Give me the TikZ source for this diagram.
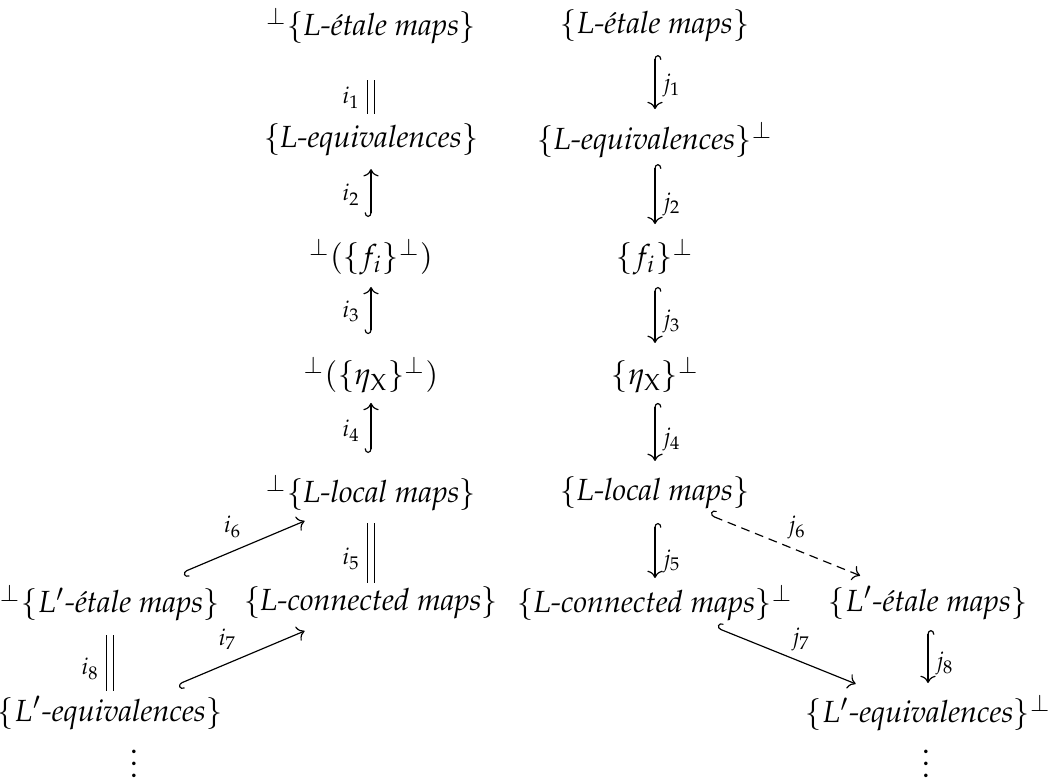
\documentclass[tikz,border=0pt]{standalone}
\usepackage[T1]{fontenc}
\usepackage{mathpazo}
\usetikzlibrary{cd}
\begin{document}
\begin{tikzpicture}[x=0.34pt,y=-0.34pt,
  obj/.style={anchor=center,inner sep=0pt,outer sep=0pt,font=\fontsize{10.4pt}{12.5pt}\selectfont},
  lab/.style={inner sep=1.5pt,font=\fontsize{10.4pt}{12.5pt}\selectfont},
  inc/.style={line width=0.4pt,tikzcd right hook-tikzcd to},
  incr/.style={line width=0.4pt,tikzcd left hook-tikzcd to},
  eq/.style={line width=0.4pt,double,double distance=2pt},
  dsh/.style={dash pattern=on 3pt off 2pt}]
\useasboundingbox (0,0) rectangle (1048,782);
% left main column
\node[obj] (A1) at (371,26) {${}^{\perp}\{\textit{L-\'etale maps}\}$};
\node[obj] (A2) at (371,140) {$\{\textit{L-equivalences}\}$};
\node[obj] (A3) at (371,257) {${}^{\perp}(\{f_i\}^{\perp})$};
\node[obj] (A4) at (371,375) {${}^{\perp}(\{\eta_{\mathrm{X}}\}^{\perp})$};
\node[obj] (A5) at (371,493) {${}^{\perp}\{\textit{L-local maps}\}$};
\node[obj] (A6) at (371,603) {$\{\textit{L-connected maps}\}$};
% far left column
\node[obj] (B1) at (110,603) {${}^{\perp}\{L'\textit{-\'etale maps}\}$};
\node[obj] (B2) at (110,713) {$\{L'\textit{-equivalences}\}$};
\node[obj,anchor=base] (B3) at (134,777) {$\vdots$};
% right main column
\node[obj] (J1) at (655,26) {$\{\textit{L-\'etale maps}\}$};
\node[obj] (J2) at (655,140) {$\{\textit{L-equivalences}\}^{\perp}$};
\node[obj] (J3) at (655,257) {$\{f_i\}^{\perp}$};
\node[obj] (J4) at (655,375) {$\{\eta_{\mathrm{X}}\}^{\perp}$};
\node[obj] (J5) at (655,493) {$\{\textit{L-local maps}\}$};
\node[obj] (J6) at (655,603) {$\{\textit{L-connected maps}\}^{\perp}$};
% far right column
\node[obj] (K1) at (928,603) {$\{L'\textit{-\'etale maps}\}$};
\node[obj] (K2) at (928,713) {$\{L'\textit{-equivalences}\}^{\perp}$};
\node[obj,anchor=base] (K3) at (926,777) {$\vdots$};
% left arrows
\draw[eq,shorten <=18.4pt,shorten >=9pt] (A1.center) -- node[lab,pos=0.63,left=2pt] (li1) {$\scriptstyle i_1$} (A2.center);
\draw[inc,shorten <=13.6pt,shorten >=9.9pt] (A3.center) -- node[lab,pos=0.53,left=2pt] (li2) {$\scriptstyle i_2$} (A2.center);
\draw[inc,shorten <=13.9pt,shorten >=10.2pt] (A4.center) -- node[lab,pos=0.54,left=2pt] (li3) {$\scriptstyle i_3$} (A3.center);
\draw[inc,shorten <=13.6pt,shorten >=9.5pt] (A5.center) -- node[lab,pos=0.53,left=2pt] (li4) {$\scriptstyle i_4$} (A4.center);
\draw[eq,shorten <=10.2pt,shorten >=6.8pt] (A5.center) -- node[lab,pos=0.6,left=2pt] (li5) {$\scriptstyle i_5$} (A6.center);
\draw[incr,shorten <=26.9pt,shorten >=24.5pt] (B1.center) -- node[lab,pos=0.47,above=3pt] (li6) {$\scriptstyle i_6$} (A5.center);
\draw[incr,shorten <=25.1pt,shorten >=24.5pt] (B2.center) -- node[lab,pos=0.45,above=3pt] (li7) {$\scriptstyle i_7$} (A6.center);
\draw[eq,shorten <=10.9pt,shorten >=7.5pt] (B1.center) -- node[lab,pos=0.6,left=2pt] (li8) {$\scriptstyle i_8$} (B2.center);
% right arrows
\draw[inc,shorten <=9.9pt,shorten >=10.5pt] (J1.center) -- node[lab,pos=0.52,right=1pt] (lj1) {$\scriptstyle j_1$} (J2.center);
\draw[inc,shorten <=8.2pt,shorten >=11.2pt] (J2.center) -- node[lab,pos=0.55,right=1pt] (lj2) {$\scriptstyle j_2$} (J3.center);
\draw[inc,shorten <=10.2pt,shorten >=10.9pt] (J3.center) -- node[lab,pos=0.55,right=1pt] (lj3) {$\scriptstyle j_3$} (J4.center);
\draw[inc,shorten <=9.5pt,shorten >=10.9pt] (J4.center) -- node[lab,pos=0.55,right=1pt] (lj4) {$\scriptstyle j_4$} (J5.center);
\draw[inc,shorten <=10.2pt,shorten >=8.5pt] (J5.center) -- node[lab,pos=0.62,right=1pt] (lj5) {$\scriptstyle j_5$} (J6.center);
\draw[inc,dsh,shorten <=20.2pt,shorten >=24.9pt] (J5.center) -- node[lab,pos=0.52,above=2pt] (lj6) {$\scriptstyle j_6$} (K1.center);
\draw[inc,shorten <=22.7pt,shorten >=26.5pt] (J6.center) -- node[lab,pos=0.535,above=2pt] (lj7) {$\scriptstyle j_7$} (K2.center);
\draw[inc,shorten <=9.2pt,shorten >=10.2pt] (K1.center) -- node[lab,pos=0.55,right=1pt] (lj8) {$\scriptstyle j_8$} (K2.center);
\end{tikzpicture}
\end{document}
